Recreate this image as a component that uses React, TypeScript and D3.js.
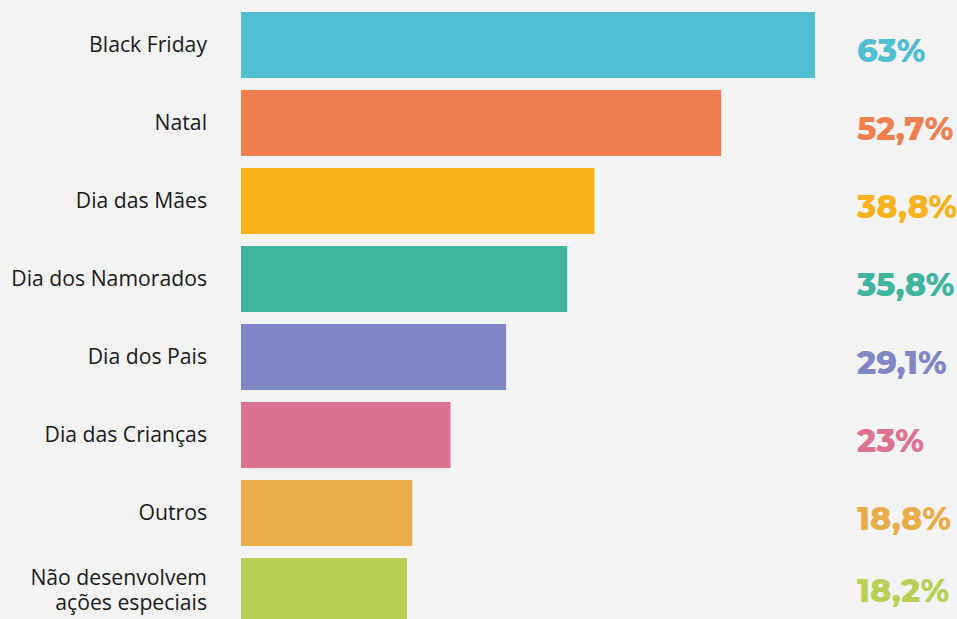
import React from "react";
import * as d3 from "d3";

const categories = [
  "Black Friday",
  "Natal",
  "Dia das Mães",
  "Dia dos Namorados",
  "Dia dos Pais",
  "Dia das Crianças",
  "Outros",
  "Não desenvolvem|ações especiais",
];
const values = [63, 52.7, 38.8, 35.8, 29.1, 23, 18.8, 18.2];
const valueLabels = ["63%", "52,7%", "38,8%", "35,8%", "29,1%", "23%", "18,8%", "18,2%"];
const colors = ["#52bed2", "#ef7f51", "#f8b21b", "#3fb59d", "#8187c4", "#db7290", "#e6ad4a", "#b8d055"];

const W = 957;
const H = 619;

export default function App() {
  const x = d3.scaleLinear().domain([0, 63]).range([241, 815]);
  const y = d3
    .scaleBand<number>()
    .domain(d3.range(categories.length))
    .range([12, 624])
    .paddingInner(12 / 78)
    .paddingOuter(0);
  const bh = y.bandwidth();
  return (
    <svg
      width={W}
      height={H}
      style={{ position: "fixed", left: 0, top: 0, background: "#f3f3f3" }}
    >
      <rect x={0} y={0} width={W} height={H} fill="#f3f3f3" />
      {values.map((v, i) => {
        const yy = y(i)!;
        const lines = categories[i].split("|");
        const cy = yy + bh / 2;
        const firstBase = lines.length > 1 ? cy - 6 : cy + 6.5;
        return (
          <g key={i}>
            <rect x={x(0)} y={yy} width={x(v) - x(0)} height={bh} fill={colors[i]} />
            <text
              x={207}
              textAnchor="end"
              fontFamily="'Open Sans', sans-serif"
              fontSize={21.2}
              fill="#1a1a1a"
            >
              {lines.map((l, j) => (
                <tspan key={j} x={207} y={firstBase + j * 25}>
                  {l}
                </tspan>
              ))}
            </text>
            <text
              x={857}
              y={Math.min(cy + 17, H - 17)}
              fontFamily="Montserrat, 'Open Sans', sans-serif"
              fontWeight={800}
              fontSize={32}
              fill={colors[i]}
            >
              {valueLabels[i]}
            </text>
          </g>
        );
      })}
    </svg>
  );
}
